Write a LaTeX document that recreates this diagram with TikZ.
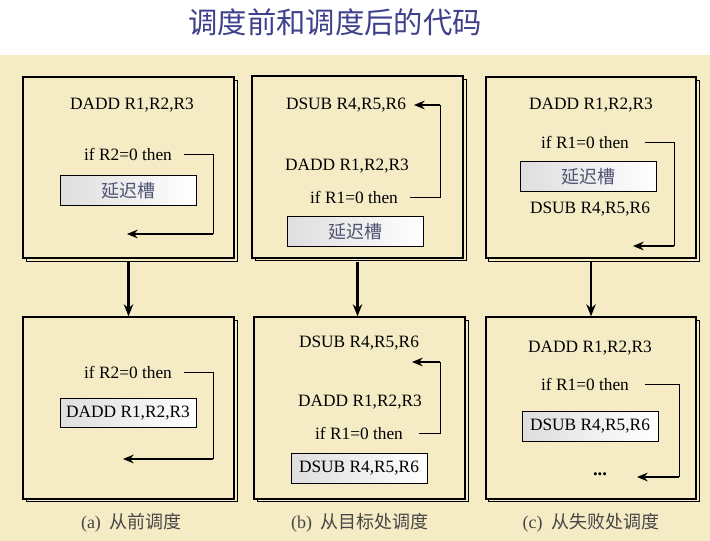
\documentclass[tikz,border=0pt]{standalone}
\usepackage{fontspec}
\setmainfont{Liberation Serif}
\newfontfamily\cjk{Noto Sans CJK SC}
\usetikzlibrary{arrows.meta,shadows}

\definecolor{paper}{RGB}{245,236,198}
\definecolor{titleblue}{RGB}{62,64,140}
\definecolor{slottext}{RGB}{80,84,115}
\definecolor{captiongray}{RGB}{70,70,70}

\begin{document}
\begin{tikzpicture}[
    x=0.75pt, y=-0.75pt,
    font=\fontsize{13}{15}\selectfont,
    flow/.style={-{Stealth[length=9pt,width=7pt]}, line width=2.2pt},
    jump/.style={-{Stealth[length=8pt,width=6.5pt]}, line width=2pt},
    branch/.style={line width=0.6pt},
    frame/.style={draw, line width=1.5pt, fill=paper,
                  minimum width=158pt, minimum height=136pt,
                  copy shadow={shadow xshift=2.4pt, shadow yshift=-2.4pt, line width=0.6pt}},
    slot/.style={draw, line width=0.6pt, left color=black!13, right color=white,
                 minimum width=102pt, minimum height=22pt, inner sep=0pt},
    code/.style={inner sep=0pt},
    delay/.style={font=\cjk\fontsize{13.5}{15}\selectfont, text=slottext},
    caption/.style={text=captiongray, font=\fontsize{13.5}{16}\selectfont}
  ]

  \useasboundingbox (0,0) rectangle (710,541);
  \fill[paper] (0,55) rectangle (710,541);

  \node[text=titleblue, font=\cjk\fontsize{22}{26}\selectfont] (title) at (335,22)
    {调度前和调度后的代码};

  \node[frame] (topA) at (128.5,167.5) {};
  \node[frame] (topB) at (357.5,167) {};
  \node[frame] (topC) at (591,167.5) {};
  \node[frame] (botA) at (128.5,408) {};
  \node[frame] (botB) at (359.5,408) {};
  \node[frame] (botC) at (591,408) {};

  \draw[flow] ([yshift=-2.5pt]topA.south) -- (botA.north);
  \draw[flow] ([yshift=-2.5pt]topB.south) -- (topB.south |- botB.north);
  \draw[flow] ([yshift=-2.5pt]topC.south) -- (botC.north);

  \node[code] (topA-add) at (132,105) {DADD R1,R2,R3};
  \node[code] (topA-if) at (128,154) {if R2=0 then};
  \node[slot, delay] (topA-slot) at (128,190.5) {延迟槽};
  \coordinate (topA-turn) at (213,234);
  \coordinate (topA-land) at (127,234);
  \draw[branch] ([xshift=9pt]topA-if.east) -| (topA-turn);
  \draw[jump] (topA-turn) -- (topA-land);

  \node[code] (topB-sub) at (346,105) {DSUB R4,R5,R6};
  \node[code] (topB-add) at (347,166) {DADD R1,R2,R3};
  \node[code] (topB-if) at (354,197) {if R1=0 then};
  \node[slot, delay] (topB-slot) at (355.5,231.5) {延迟槽};
  \coordinate (topB-turn) at (440,105);
  \coordinate (topB-land) at (414,105);
  \draw[branch] ([xshift=9pt]topB-if.east) -| (topB-turn);
  \draw[jump] (topB-turn) -- (topB-land);

  \node[code] (topC-add) at (591,105) {DADD R1,R2,R3};
  \node[code] (topC-if) at (585,142) {if R1=0 then};
  \node[slot, delay] (topC-slot) at (588,176.5) {延迟槽};
  \node[code] (topC-sub) at (590,209) {DSUB R4,R5,R6};
  \coordinate (topC-turn) at (674,246);
  \coordinate (topC-land) at (633,246);
  \draw[branch] ([xshift=12pt]topC-if.east) -| (topC-turn);
  \draw[jump] (topC-turn) -- (topC-land);

  \node[code] (botA-if) at (128,372) {if R2=0 then};
  \node[slot] (botA-slot) at (128,413) {DADD R1,R2,R3};
  \coordinate (botA-turn) at (213,459);
  \coordinate (botA-land) at (123,459);
  \draw[branch] ([xshift=9pt]botA-if.east) -| (botA-turn);
  \draw[jump] (botA-turn) -- (botA-land);

  \node[code] (botB-sub) at (359,343) {DSUB R4,R5,R6};
  \node[code] (botB-add) at (360,402) {DADD R1,R2,R3};
  \node[code] (botB-if) at (359,433) {if R1=0 then};
  \node[slot] (botB-slot) at (359,468.5) {DSUB R4,R5,R6};
  \coordinate (botB-turn) at (440,362);
  \coordinate (botB-land) at (412,362);
  \draw[branch] ([xshift=12pt]botB-if.east) -| (botB-turn);
  \draw[jump] (botB-turn) -- (botB-land);

  \node[code] (botC-add) at (590,348) {DADD R1,R2,R3};
  \node[code] (botC-if) at (585,384) {if R1=0 then};
  \node[slot] (botC-slot) at (590,426.5) {DSUB R4,R5,R6};
  \node[code, font=\bfseries\fontsize{14}{15}\selectfont] (botC-more) at (600,474) {...};
  \coordinate (botC-turn) at (679,477);
  \coordinate (botC-land) at (637,477);
  \draw[branch] ([xshift=12pt]botC-if.east) -| (botC-turn);
  \draw[jump] (botC-turn) -- (botC-land);

  \node[caption] (capA) at (131.5,523) {(a)\ \ {\cjk 从前调度}};
  \node[caption] (capB) at (360,523) {(b)\ \ {\cjk 从目标处调度}};
  \node[caption] (capC) at (591,523) {(c)\ \ {\cjk 从失败处调度}};
\end{tikzpicture}
\end{document}
